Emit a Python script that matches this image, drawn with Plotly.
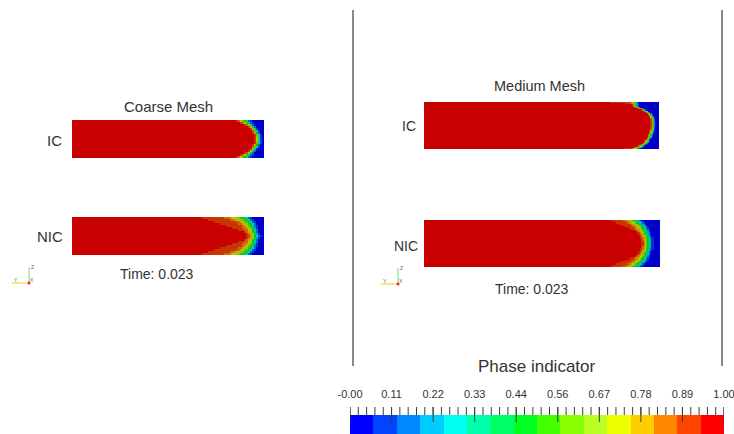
import numpy as np
import plotly.graph_objects as go

# ---------------- data ----------------
band_colors = ["#0000ff", "#0044ff", "#0088ff", "#00ccff", "#00ffee", "#00ffaa",
               "#00ff66", "#00ff22", "#44ff00", "#88ff00", "#bbff22", "#eeff00",
               "#ffcc00", "#ff8800", "#ff4400", "#ff0000"]
tick_values = [0, 1/9, 2/9, 3/9, 4/9, 5/9, 6/9, 7/9, 8/9, 1]
tick_labels = ["-0.00", "0.11", "0.22", "0.33", "0.44", "0.56", "0.67", "0.78", "0.89", "1.00"]

# liquid front (phase = 0.5) as fraction of channel length, at fractional heights (top->bottom)
front_y = [0.0, 0.1, 0.15, 0.2, 0.3, 0.4, 0.5, 0.6, 0.7, 0.8, 0.85, 0.9, 1.0]
coarse_ic_front = [0.89, 0.92, 0.932, 0.943, 0.958, 0.967, 0.97, 0.967, 0.958, 0.943, 0.932, 0.92, 0.89]
coarse_ic_wl = [7, 4.5, 3.5, 3, 2.8, 2.6, 2.6, 2.6, 2.8, 3, 3.5, 4.5, 7]
coarse_ic_wr = [6, 4, 3.2, 3, 2.8, 2.6, 2.6, 2.6, 2.8, 3, 3.2, 4, 6]
coarse_ic_tail = [1, 1, 1, 1, 1, 1, 1, 1, 1, 1, 1, 1, 1]
coarse_nic_front = [0.885, 0.915, 0.925, 0.933, 0.944, 0.951, 0.953, 0.951, 0.944, 0.933, 0.925, 0.915, 0.885]
coarse_nic_wl = [15, 11, 9, 8, 7, 6, 6, 6, 7, 8, 9, 11, 15]
coarse_nic_wr = [10, 8, 7, 6, 5, 4.5, 4.5, 4.5, 5, 6, 7, 8, 10]
coarse_nic_tail = [0.667, 0.72, 0.75, 0.78, 0.84, 0.9, 1.0, 0.9, 0.84, 0.78, 0.75, 0.72, 0.667]
medium_ic_front = [0.898, 0.902, 0.926, 0.948, 0.969, 0.976, 0.976, 0.973, 0.965, 0.955, 0.948, 0.94, 0.905]
medium_ic_wl = [4, 2.5, 2, 2, 2, 2, 2, 2, 2, 2, 2.5, 3, 5]
medium_ic_wr = [3, 2, 1.8, 1.8, 1.8, 1.8, 1.8, 1.8, 1.8, 1.8, 2, 2, 3]
medium_ic_tail = [0.76, 1, 1, 1, 1, 1, 1, 1, 1, 1, 1, 1, 0.834]
medium_nic_front = [0.89, 0.918, 0.927, 0.934, 0.942, 0.947, 0.948, 0.947, 0.942, 0.934, 0.927, 0.918, 0.89]
medium_nic_wl = [9, 7.5, 7, 6.5, 6, 5, 4.5, 5, 6, 6.5, 7, 7.5, 9]
medium_nic_wr = [8, 6.5, 6, 5.5, 5, 4.3, 4, 4.3, 5, 5.5, 6, 6.5, 8]
medium_nic_tail = [0.788, 0.83, 0.855, 0.88, 0.93, 1, 1, 1, 0.93, 0.88, 0.855, 0.83, 0.788]

H = 434


def Y(y):
    """screen pixel row -> plot y (y axis points up)"""
    return H - np.asarray(y, dtype=float)


def scale_hex(h, f):
    r, g, b = int(h[1:3], 16), int(h[3:5], 16), int(h[5:7], 16)
    return "rgb(%d,%d,%d)" % (round(r * f), round(g * f), round(b * f))


def stepped(colors):
    n = len(colors)
    cs = []
    for i, c in enumerate(colors):
        cs.append([i / n, c])
        cs.append([(i + 1) / n, c])
    return cs


bar_scale = stepped(band_colors)
shade = 200 / 255
field_scale = stepped([scale_hex(c, shade) for c in band_colors])


def phase_field(nx, ny, length_px, front, wl, wr, tail):
    yc = (np.arange(ny) + 0.5) / ny
    xc = (np.arange(nx) + 0.5) / nx * length_px
    xf = np.interp(yc, front_y, front) * length_px
    l = np.interp(yc, front_y, wl)
    r = np.interp(yc, front_y, wr)
    ts = np.interp(yc, front_y, tail) * length_px
    d = xc[None, :] - xf[:, None]
    w = np.where(d < 0, l[:, None], r[:, None])
    z = 0.5 * (1 - np.tanh(d / w))
    z = z - np.where(xc[None, :] > ts[:, None], 0.07, 0.0)
    return np.clip(z, 0, 1)


fig = go.Figure()

# pixel boxes of the four renderings: left, right, top, bottom, cells
boxes = [
    (72, 264, 120, 158, 96, 19, coarse_ic_front, coarse_ic_wl, coarse_ic_wr, coarse_ic_tail),
    (72, 264, 217, 255, 96, 19, coarse_nic_front, coarse_nic_wl, coarse_nic_wr, coarse_nic_tail),
    (424, 659, 102, 149, 188, 38, medium_ic_front, medium_ic_wl, medium_ic_wr, medium_ic_tail),
    (424, 660, 220, 267, 188, 38, medium_nic_front, medium_nic_wl, medium_nic_wr, medium_nic_tail),
]
for x0, x1, y0, y1, nx, ny, fr, wl, wr, tl in boxes:
    z = phase_field(nx, ny, x1 - x0, fr, wl, wr, tl)[::-1]
    fig.add_trace(go.Heatmap(
        z=z.tolist(), x=np.linspace(x0, x1, nx + 1).tolist(),
        y=np.linspace(Y(y1), Y(y0), ny + 1).tolist(),
        colorscale=field_scale, zmin=0, zmax=1, showscale=False,
        hoverinfo="skip", zsmooth=False))

# colour bar on its own 0..1 value axis
nb = len(band_colors)
fig.add_trace(go.Heatmap(
    z=[[(i + 0.5) / nb for i in range(nb)]],
    x=np.linspace(0, 1, nb + 1).tolist(), y=[float(Y(442)), float(Y(415))],
    colorscale=bar_scale, zmin=0, zmax=1, showscale=False,
    hoverinfo="skip", xaxis="x2", yaxis="y"))

minor = [k / 45 for k in range(46)]
mx, my = [], []
for v in minor:
    mx += [v, v, None]
    my += [float(Y(407)), float(Y(415)), None]
for v in tick_values:
    mx += [v, v, None]
    my += [float(Y(407)), float(Y(422)), None]
fig.add_trace(go.Scatter(x=mx, y=my, mode="lines", xaxis="x2", yaxis="y",
                         line=dict(color="#3c3c3c", width=1), hoverinfo="skip",
                         showlegend=False, cliponaxis=False))
fig.add_trace(go.Scatter(x=tick_values, y=[float(Y(395))] * len(tick_values), mode="text",
                         text=tick_labels, xaxis="x2", yaxis="y", cliponaxis=False,
                         textfont=dict(family="Liberation Sans", size=11, color="#333333"),
                         hoverinfo="skip", showlegend=False))

txt = "#333333"
font = "Liberation Sans"
ann = [
    ("Coarse Mesh", 168, 106, 15),
    ("IC", 54, 140, 15),
    ("NIC", 50, 236, 15),
    ("Time: 0.023", 157, 274, 14),
    ("Medium Mesh", 539.5, 86, 14.5),
    ("IC", 409, 126, 14),
    ("NIC", 406, 246, 14),
    ("Time: 0.023", 531.5, 289, 14),
    ("Phase indicator", 537, 366, 17),
]
for t, x, y, s in ann:
    fig.add_annotation(text=t, x=x, y=float(Y(y)), xref="x", yref="y", showarrow=False,
                       xanchor="center", yanchor="middle",
                       font=dict(family=font, size=s, color=txt))

# view separators
for xv in (353, 722):
    fig.add_shape(type="line", x0=xv, x1=xv, y0=float(Y(10)), y1=float(Y(366)),
                  xref="x", yref="y", line=dict(color="#888888", width=2))

# orientation triads
for ox, oy in ((29, 283), (398, 284)):
    fig.add_shape(type="line", x0=ox, x1=ox, y0=float(Y(oy)), y1=float(Y(oy - 16)),
                  xref="x", yref="y", line=dict(color="#70e070", width=1))
    fig.add_shape(type="line", x0=ox, x1=ox - 17, y0=float(Y(oy)), y1=float(Y(oy)),
                  xref="x", yref="y", line=dict(color="#e8d800", width=1))
    fig.add_shape(type="circle", x0=ox - 1.5, x1=ox + 1.5, y0=float(Y(oy + 1.5)),
                  y1=float(Y(oy - 1.5)), xref="x", yref="y",
                  fillcolor="#ff2020", line=dict(width=0))
    for t, dx, dy in (("Z", 3, -16), ("Y", -13, -3), ("X", 3, -3)):
        fig.add_annotation(text=t, x=ox + dx, y=float(Y(oy + dy)), xref="x", yref="y",
                           showarrow=False, font=dict(family=font, size=5, color="#666666"))

fig.update_layout(
    width=734, height=434, margin=dict(l=0, r=0, t=0, b=0),
    paper_bgcolor="white", plot_bgcolor="rgba(0,0,0,0)", showlegend=False,
    xaxis=dict(range=[0, 734], visible=False, domain=[0, 1], fixedrange=True),
    xaxis2=dict(range=[0, 1], visible=False, domain=[350 / 734, 724 / 734],
                anchor="y", fixedrange=True),
    yaxis=dict(range=[0, H], visible=False, domain=[0, 1], fixedrange=True),
)
fig.write_html("out.html")
